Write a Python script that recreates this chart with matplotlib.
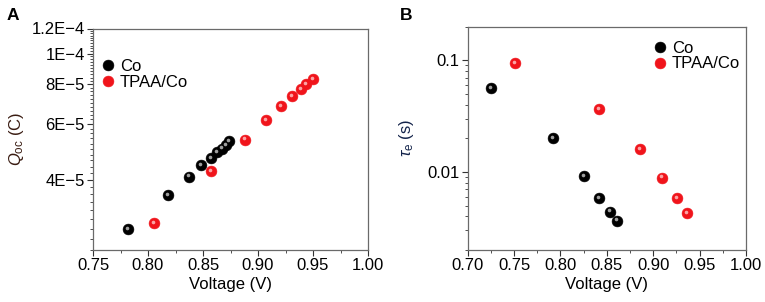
import matplotlib
matplotlib.use("Agg")
import matplotlib.pyplot as plt
import matplotlib.transforms as mtransforms
from matplotlib.ticker import FixedLocator, MultipleLocator, NullFormatter
import numpy as np

plt.rcParams['font.family'] = ['Liberation Sans', 'DejaVu Sans']
plt.rcParams['mathtext.fontset'] = 'custom'
plt.rcParams['mathtext.rm'] = 'Liberation Sans'
plt.rcParams['mathtext.it'] = 'Liberation Sans:italic'

# ---- Panel A data ----
a_co_v = [0.782, 0.818, 0.837, 0.848, 0.857, 0.863, 0.867, 0.871, 0.874]
a_co_q = [2.80e-5, 3.58e-5, 4.09e-5, 4.44e-5, 4.69e-5, 4.89e-5, 5.01e-5, 5.15e-5, 5.30e-5]
a_tp_v = [0.805, 0.857, 0.888, 0.907, 0.921, 0.931, 0.939, 0.944, 0.950]
a_tp_q = [2.91e-5, 4.26e-5, 5.35e-5, 6.17e-5, 6.83e-5, 7.33e-5, 7.73e-5, 8.03e-5, 8.29e-5]
a_yticks = [4e-5, 6e-5, 8e-5, 1e-4, 1.2e-4]
a_yticklabels = ['4E\u22125', '6E\u22125', '8E\u22125', '1E\u22124', '1.2E\u22124']
a_xticks = [0.75, 0.80, 0.85, 0.90, 0.95, 1.00]

# ---- Panel B data ----
b_co_v = [0.725, 0.792, 0.825, 0.842, 0.853, 0.861]
b_co_t = [0.0565, 0.0201, 0.0092, 0.00585, 0.00442, 0.00367]
b_tp_v = [0.751, 0.841, 0.886, 0.909, 0.926, 0.936]
b_tp_t = [0.0946, 0.0364, 0.0161, 0.0089, 0.00582, 0.00425]
b_yticks = [0.01, 0.1]
b_yticklabels = ['0.01', '0.1']
b_xticks = [0.70, 0.75, 0.80, 0.85, 0.90, 0.95, 1.00]

labels = ['Co', 'TPAA/Co']

fig = plt.figure(figsize=(7.65, 3.02), dpi=100)
axA = fig.add_axes([93/765, 52/302, 275/765, 221.5/302])
axB = fig.add_axes([467.7/765, 52/302, 278.3/765, 223.3/302])

FS = 12
spine_c = '#6a6a6a'


def sphere(ax, x, y, color, hl, label):
    ax.plot(x, y, 'o', ms=7.8, color=color, mec=color, mew=0.4, label=label, zorder=3)
    tr = mtransforms.offset_copy(ax.transData, fig=fig, x=-0.7, y=0.9, units='points')
    ax.plot(x, y, 'o', ms=2.6, color=hl, mec='none', alpha=0.8, transform=tr, zorder=4)


def style(ax):
    for s in ax.spines.values():
        s.set_color(spine_c)
        s.set_linewidth(0.9)
    ax.tick_params(axis='both', which='major', direction='out', length=4, width=0.8,
                   color='#333333', labelsize=FS, pad=2)
    ax.tick_params(axis='both', which='minor', direction='out', length=2, width=0.6,
                   color='#333333')
    ax.tick_params(top=False, right=False, which='both')
    ax.xaxis.set_minor_locator(MultipleLocator(0.025))
    ax.set_xlabel('Voltage (V)', fontsize=FS, labelpad=3)


# Panel A
sphere(axA, a_co_v, a_co_q, 'black', '#c8c8c8', labels[0])
sphere(axA, a_tp_v, a_tp_q, '#f0141b', '#ffc8c8', labels[1])
axA.set_yscale('log')
axA.set_xlim(0.75, 1.00)
axA.set_ylim(2.4e-5, 1.2e-4)
axA.set_yticks(a_yticks)
axA.set_yticklabels(a_yticklabels)
axA.yaxis.set_minor_locator(FixedLocator(list(np.arange(24e-6, 120.5e-6, 2e-6))))
axA.yaxis.set_minor_formatter(NullFormatter())
axA.set_xticks(a_xticks)
axA.set_xticklabels(['%.2f' % v for v in a_xticks])
style(axA)
axA.set_ylabel(r'$\mathit{Q}_{\rm oc}$ (C)', fontsize=FS, color='#3a1c12', labelpad=4)
axA.legend(loc='upper left', bbox_to_anchor=(-0.012, 0.9), frameon=False, fontsize=FS,
           handletextpad=0.1, labelspacing=0.05, borderpad=0, handlelength=1.2,
           numpoints=1)

# Panel B
sphere(axB, b_co_v, b_co_t, 'black', '#c8c8c8', labels[0])
sphere(axB, b_tp_v, b_tp_t, '#f0141b', '#ffc8c8', labels[1])
axB.set_yscale('log')
axB.set_xlim(0.70, 1.00)
axB.set_ylim(0.002, 0.2)
axB.set_yticks(b_yticks)
axB.set_yticklabels(b_yticklabels)
axB.yaxis.set_minor_formatter(NullFormatter())
axB.set_xticks(b_xticks)
axB.set_xticklabels(['%.2f' % v for v in b_xticks])
style(axB)
axB.set_ylabel(r'$\tau_{\rm e}$ (s)', fontsize=FS, color='#13234a', labelpad=8)
axB.legend(loc='upper left', bbox_to_anchor=(0.625, 0.975), frameon=False, fontsize=FS,
           handletextpad=0.1, labelspacing=0.05, borderpad=0, handlelength=1.2,
           numpoints=1)

fig.text(7/765, 1 - 20/302, 'A', fontsize=12.5, fontweight='bold')
fig.text(400/765, 1 - 20/302, 'B', fontsize=12.5, fontweight='bold')

fig.savefig('out.png', dpi=100)
